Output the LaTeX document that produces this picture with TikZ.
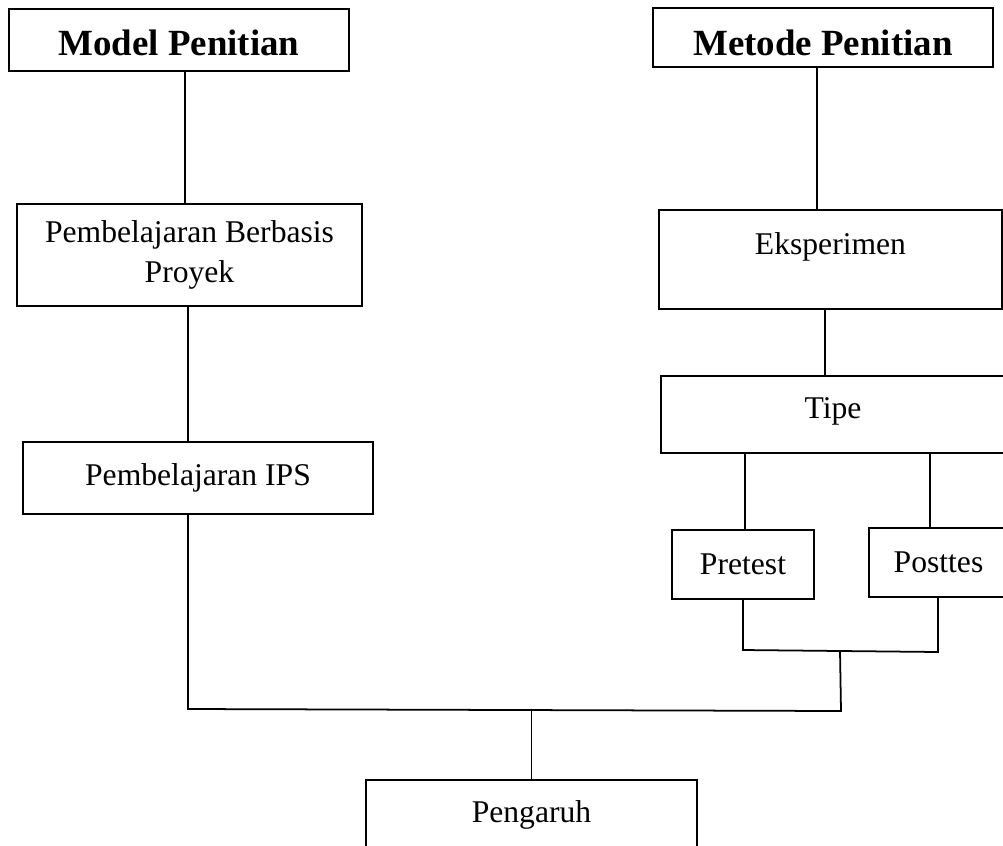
\documentclass[tikz,border=0pt]{standalone}
\usepackage{fontspec}
\setmainfont{Liberation Serif}
\tikzset{
  kotak/.style={draw,line width=1.1pt,inner sep=0pt,align=center,font=\fontsize{18}{23}\selectfont},
  judul/.style={kotak,font=\fontsize{21}{25}\selectfont\bfseries,text depth=0pt},
  garis/.style={line width=1pt}
}
\begin{document}
\begin{tikzpicture}[x=0.02cm,y=-0.02cm]
  \useasboundingbox (0,0) rectangle (1003,845);
  \clip (0,0) rectangle (1003,845);

  % sisi kiri
  \node[judul,minimum width=6.8cm,minimum height=1.24cm,text height=17.3pt] (model) at (179,40) {Model Penitian};
  \node[kotak,minimum width=6.9cm,minimum height=2.04cm] (proyek) at (189.5,255) {Pembelajaran Berbasis\\Proyek};
  \node[kotak,minimum width=7cm,minimum height=1.44cm] (ips) at (198,478) {Pembelajaran IPS};

  % sisi kanan
  \node[judul,minimum width=6.8cm,minimum height=1.18cm,text height=20pt] (metode) at (823,37.5) {Metode Penitian};
  \node[kotak,minimum width=6.86cm,minimum height=1.98cm,text depth=1.8em] (eks) at (830.5,259.5) {Eksperimen};
  \node[kotak,minimum width=6.88cm,minimum height=1.54cm,text depth=0.7em] (tipe) at (833,414.5) {Tipe};
  \node[kotak,minimum width=2.84cm,minimum height=1.38cm] (pretest) at (743,564.5) {Pretest};
  \node[kotak,minimum width=2.78cm,minimum height=1.38cm] (posttes) at (938.5,562.5) {Posttes};

  % bawah
  \node[kotak,minimum width=6.62cm,minimum height=1.4cm] (pengaruh) at (531.5,815) {Pengaruh};

  \coordinate (kolA) at (185,0);
  \coordinate (kolB) at (188,0);
  \coordinate (kolC) at (817,0);
  \coordinate (kolD) at (825,0);
  \coordinate (kolE) at (745,0);
  \coordinate (kolF) at (930,0);
  \coordinate (kiri) at (743,650);
  \coordinate (kanan) at (938,652);
  \coordinate (tengah) at (840,651);
  \coordinate (bawahkiri) at (188,709);
  \coordinate (bawahkanan) at (841,711);

  \draw[garis] (model.south -| kolA) -- (proyek.north -| kolA);
  \draw[garis] (proyek.south -| kolB) -- (ips.north -| kolB);
  \draw[garis] (metode.south -| kolC) -- (eks.north -| kolC);
  \draw[garis] (eks.south -| kolD) -- (tipe.north -| kolD);
  \draw[garis] (tipe.south -| kolE) -- (pretest.north -| kolE);
  \draw[garis] (tipe.south -| kolF) -- (posttes.north -| kolF);
  \draw[garis] (pretest.south -| kiri) -- (kiri) -- (kanan) -- (posttes.south -| kanan);
  \draw[garis] (ips.south -| bawahkiri) -- (bawahkiri) -- (bawahkanan) -- (tengah);
  \draw[garis] (pengaruh.north) -- (pengaruh.north |- bawahkiri);
\end{tikzpicture}
\end{document}
